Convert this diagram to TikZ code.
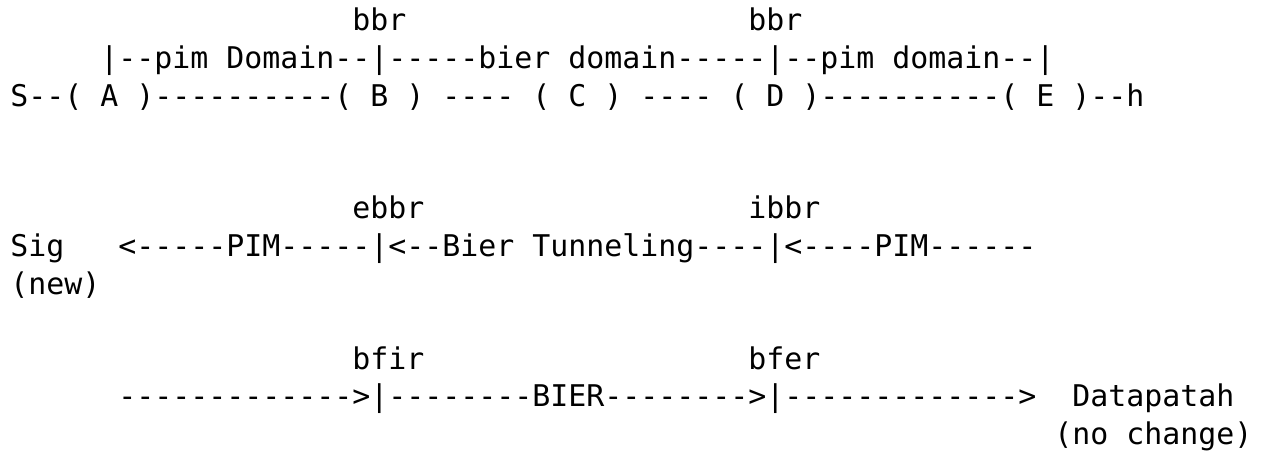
\documentclass[tikz,border=0pt]{standalone}
\usepackage{fontspec}
\setmonofont{DejaVu Sans Mono}
\usepackage{tikz}

\tikzset{
  asc/.style={inner sep=0pt, anchor=base west, font=\ttfamily\fontsize{14.95pt}{18.8pt}\selectfont}
}

\begin{document}
\begin{tikzpicture}[x=9pt, y=-18.8pt]
    \useasboundingbox (-0.5556,-0.8245) rectangle (69.556,11.25);
    \node[asc] (bbrB) at (19,0) {bbr}; \node[asc] (bbrD) at (41,0) {bbr};
    \node[asc] (domains) at (5,1) {|--pim Domain--|-----bier domain-----|--pim domain--|};
    \node[asc] (routers) at (0,2) {S--( A )----------( B ) ---- ( C ) ---- ( D )----------( E )--h};
    \node[asc] (ebbr) at (19,5) {ebbr}; \node[asc] (ibbr) at (41,5) {ibbr};
    \node[asc] (sig) at (0,6) {Sig};
    \node[asc] (sigpath) at (6,6) {<-----PIM-----|<--Bier Tunneling----|<----PIM------};
    \node[asc] (signew) at (0,7) {(new)};
    \node[asc] (bfir) at (19,9) {bfir}; \node[asc] (bfer) at (41,9) {bfer};
    \node[asc] (datapath) at (6,10) {------------->|--------BIER-------->|------------->};
    \node[asc] (dp) at (59,10) {Datapatah};
    \node[asc] (dpnochange) at (58,11) {(no change)};
\end{tikzpicture}
\end{document}
